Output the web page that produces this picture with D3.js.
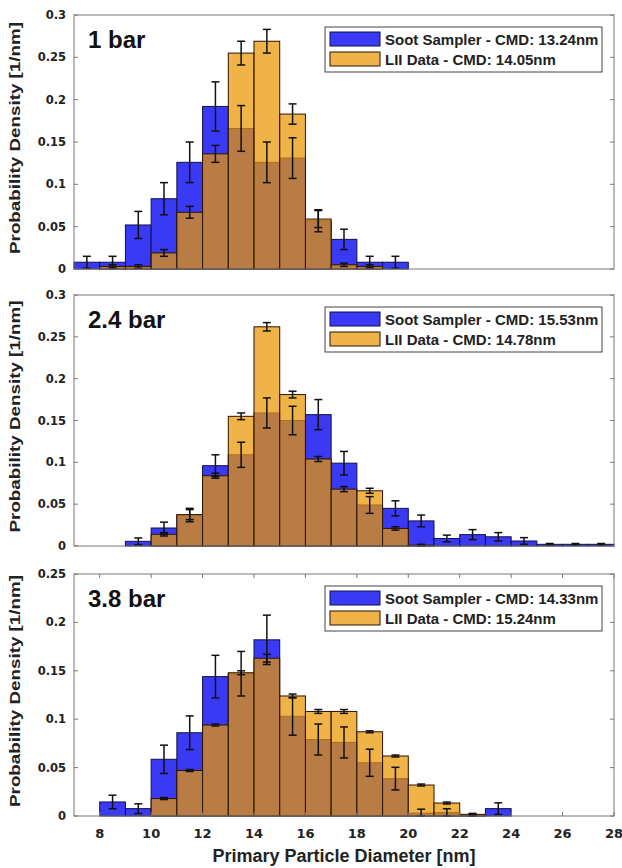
<!DOCTYPE html>
<html><head><meta charset="utf-8">
<script src="https://cdn.jsdelivr.net/npm/d3@7"></script>
<style>body{margin:0;background:#fff;}svg{display:block;}</style>
</head><body>
<svg id="c" width="622" height="868"></svg>
<script>
// ---- data ----
const titles = ["1 bar", "2.4 bar", "3.8 bar"];
const legendSoot = ["Soot Sampler - CMD: 13.24nm", "Soot Sampler - CMD: 15.53nm", "Soot Sampler - CMD: 14.33nm"];
const legendLII = ["LII Data - CMD: 14.05nm", "LII Data - CMD: 14.78nm", "LII Data - CMD: 15.24nm"];
const yMax = [0.3, 0.3, 0.25];
const yTicks1 = [0, 0.05, 0.1, 0.15, 0.2, 0.25, 0.3];
const yTicks3 = [0, 0.05, 0.1, 0.15, 0.2, 0.25];
const xTicks = [8, 10, 12, 14, 16, 18, 20, 22, 24, 26, 28];

const binStart1 = [7, 8, 9, 10, 11, 12, 13, 14, 15, 16, 17, 18, 19];
const soot1 = [0.008, 0.008, 0.052, 0.083, 0.126, 0.192, 0.166, 0.126, 0.131, 0.057, 0.035, 0.008, 0.008];
const sootErr1 = [0.007, 0.007, 0.016, 0.019, 0.024, 0.029, 0.027, 0.024, 0.024, 0.013, 0.012, 0.007, 0.007];
const lii1 = [0, 0.003, 0.003, 0.019, 0.067, 0.136, 0.255, 0.269, 0.183, 0.059, 0.005, 0.003, 0];
const liiErr1 = [0, 0.002, 0.002, 0.004, 0.007, 0.010, 0.014, 0.014, 0.012, 0.010, 0.002, 0.002, 0];

const binStart2 = [9, 10, 11, 12, 13, 14, 15, 16, 17, 18, 19, 20, 21, 22, 23, 24, 25, 26, 27];
const soot2 = [0.0056, 0.0215, 0.037, 0.096, 0.109, 0.159, 0.150, 0.157, 0.099, 0.049, 0.045, 0.030, 0.009, 0.0136, 0.011, 0.006, 0.002, 0.002, 0.002];
const sootErr2 = [0.004, 0.007, 0.008, 0.013, 0.015, 0.018, 0.017, 0.018, 0.014, 0.010, 0.009, 0.007, 0.004, 0.006, 0.005, 0.004, 0.001, 0.001, 0.001];
const lii2 = [0, 0.014, 0.0375, 0.084, 0.155, 0.262, 0.181, 0.104, 0.068, 0.066, 0.021, 0.001, 0, 0, 0, 0, 0, 0, 0];
const liiErr2 = [0, 0.002, 0.006, 0.003, 0.004, 0.005, 0.004, 0.003, 0.003, 0.003, 0.002, 0.001, 0, 0, 0, 0, 0, 0, 0];

const binStart3 = [8, 9, 10, 11, 12, 13, 14, 15, 16, 17, 18, 19, 20, 21, 22, 23];
const soot3 = [0.0145, 0.0076, 0.0586, 0.086, 0.144, 0.147, 0.182, 0.103, 0.079, 0.076, 0.055, 0.0386, 0.003, 0.0035, 0.001, 0.0076];
const sootErr3 = [0.007, 0.005, 0.0146, 0.0174, 0.022, 0.023, 0.0255, 0.0195, 0.016, 0.016, 0.014, 0.0117, 0.004, 0.004, 0.001, 0.006];
const lii3 = [0, 0, 0.018, 0.047, 0.094, 0.148, 0.163, 0.124, 0.108, 0.108, 0.087, 0.062, 0.032, 0.0134, 0.0017, 0];
const liiErr3 = [0, 0, 0.001, 0.001, 0.001, 0.002, 0.004, 0.002, 0.002, 0.002, 0.001, 0.001, 0.001, 0.001, 0.001, 0];

const panels = [
  {bins: binStart1, soot: soot1, sootErr: sootErr1, lii: lii1, liiErr: liiErr1, ticks: yTicks1},
  {bins: binStart2, soot: soot2, sootErr: sootErr2, lii: lii2, liiErr: liiErr2, ticks: yTicks1},
  {bins: binStart3, soot: soot3, sootErr: sootErr3, lii: lii3, liiErr: liiErr3, ticks: yTicks3}
];

// ---- layout ----
const left = 74, right = 614;
const boxes = [[15, 269], [295, 546], [574, 816]];
const BLUE = "rgb(58,58,245)";
const ORANGE = "rgb(234,150,0)";
const ORANGE_A = 0.72;
const FONT = "Liberation Sans, Arial, sans-serif";
const TICKFONT = "DejaVu Sans, Verdana, sans-serif";

const svg = d3.select("#c");
const x = d3.scaleLinear().domain([7, 28]).range([left, right]);

panels.forEach((p, i) => {
  const [top, bottom] = boxes[i];
  const y = d3.scaleLinear().domain([0, yMax[i]]).range([bottom, top]);
  const g = svg.append("g");
  const bw = x(1) - x(0);

  // blue bars
  g.selectAll(".sb").data(p.bins).enter().append("rect")
    .attr("x", d => x(d)).attr("width", bw)
    .attr("y", (d, k) => y(p.soot[k])).attr("height", (d, k) => y(0) - y(p.soot[k]))
    .attr("fill", BLUE).attr("stroke", "#10104a").attr("stroke-width", 1);
  // orange bars (transparent)
  g.selectAll(".lb").data(p.bins).enter().append("rect")
    .filter((d, k) => p.lii[k] > 0)
    .attr("x", d => x(d)).attr("width", bw)
    .attr("y", d => y(p.lii[p.bins.indexOf(d)]))
    .attr("height", d => y(0) - y(p.lii[p.bins.indexOf(d)]))
    .attr("fill", ORANGE).attr("fill-opacity", ORANGE_A)
    .attr("stroke", "#2a1400").attr("stroke-width", 1);

  // error bars
  function errBars(vals, errs) {
    p.bins.forEach((b, k) => {
      if (errs[k] <= 0) return;
      const cx = x(b + 0.5);
      const y1 = y(vals[k] - errs[k]), y2 = y(vals[k] + errs[k]);
      g.append("line").attr("x1", cx).attr("x2", cx).attr("y1", Math.min(y(0), y1)).attr("y2", y2)
        .attr("stroke", "#111").attr("stroke-width", 1.5);
      [Math.min(y(0), y1), y2].forEach(yy => {
        g.append("line").attr("x1", cx - 4).attr("x2", cx + 4).attr("y1", yy).attr("y2", yy)
          .attr("stroke", "#111").attr("stroke-width", 1.5);
      });
    });
  }
  errBars(p.soot, p.sootErr);
  errBars(p.lii, p.liiErr);

  // frame
  g.append("rect").attr("x", left).attr("y", top).attr("width", right - left).attr("height", bottom - top)
    .attr("fill", "none").attr("stroke", "#777").attr("stroke-width", 1);

  // y ticks (left labels, inward ticks both sides)
  p.ticks.forEach(t => {
    const yy = y(t);
    g.append("line").attr("x1", left).attr("x2", left + 4).attr("y1", yy).attr("y2", yy).attr("stroke", "#777");
    g.append("line").attr("x1", right - 4).attr("x2", right).attr("y1", yy).attr("y2", yy).attr("stroke", "#777");
    g.append("text").attr("x", left - 8).attr("y", yy + 4).attr("text-anchor", "end")
      .attr("font-family", TICKFONT).attr("font-weight", "bold").attr("font-size", 11.5).attr("fill", "#222")
      .text(d3.format("")(t));
  });

  // y label
  g.append("text").attr("transform", `translate(20,${(top + bottom) / 2 - 4}) rotate(-90)`)
    .attr("text-anchor", "middle").attr("font-family", FONT).attr("font-weight", "bold")
    .attr("font-size", 14).attr("fill", "#222").attr("textLength", 232).attr("lengthAdjust", "spacingAndGlyphs")
    .text("Probability Density [1/nm]");

  // title
  g.append("text").attr("x", 88).attr("y", top + 33).attr("font-family", FONT).attr("font-weight", "bold")
    .attr("font-size", 24).attr("fill", "#111").text(titles[i]);

  // legend
  const ly = top + 12;
  g.append("rect").attr("x", 325).attr("y", ly).attr("width", 277).attr("height", 45)
    .attr("fill", "#fff").attr("stroke", "#444").attr("stroke-width", 1);
  g.append("rect").attr("x", 330).attr("y", ly + 5).attr("width", 50).attr("height", 14)
    .attr("fill", BLUE).attr("stroke", "#10104a");
  g.append("rect").attr("x", 330).attr("y", ly + 25).attr("width", 50).attr("height", 14)
    .attr("fill", ORANGE).attr("fill-opacity", ORANGE_A).attr("stroke", "#2a1400");
  g.append("text").attr("x", 385).attr("y", ly + 18).attr("font-family", FONT).attr("font-weight", "bold")
    .attr("font-size", 15).attr("fill", "#222").text(legendSoot[i]);
  g.append("text").attr("x", 385).attr("y", ly + 38).attr("font-family", FONT).attr("font-weight", "bold")
    .attr("font-size", 15).attr("fill", "#222").text(legendLII[i]);

  if (i === 2) {
    xTicks.forEach(t => {
      g.append("line").attr("x1", x(t)).attr("x2", x(t)).attr("y1", bottom).attr("y2", bottom - 4).attr("stroke", "#777");
      g.append("line").attr("x1", x(t)).attr("x2", x(t)).attr("y1", top).attr("y2", top + 4).attr("stroke", "#777");
      g.append("text").attr("x", x(t)).attr("y", bottom + 22).attr("text-anchor", "middle")
        .attr("font-family", TICKFONT).attr("font-weight", "bold").attr("font-size", 13).attr("fill", "#222").text(t);
    });
    g.append("text").attr("x", (left + right) / 2).attr("y", 862).attr("text-anchor", "middle")
      .attr("font-family", FONT).attr("font-weight", "bold").attr("font-size", 18).attr("fill", "#222")
      .text("Primary Particle Diameter [nm]");
  }
});
</script>
</body></html>
